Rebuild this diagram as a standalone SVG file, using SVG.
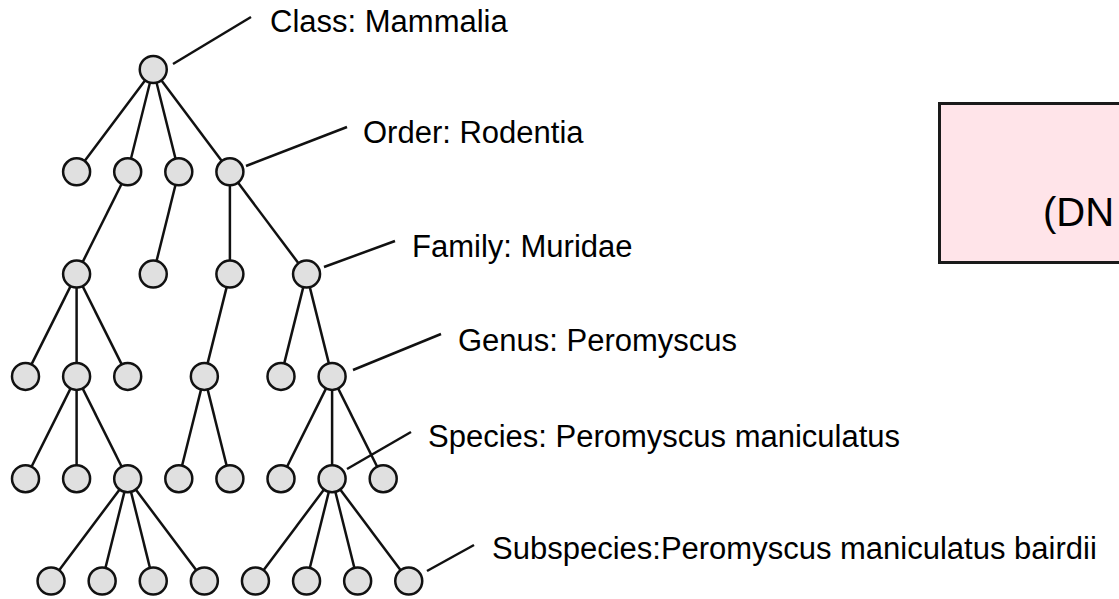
<svg xmlns="http://www.w3.org/2000/svg" width="1119" height="599" viewBox="0 0 1119 599">
<style>
.n{fill:#e0e0e0;stroke:#111;stroke-width:2.5}
.e{stroke:#111;stroke-width:2.5;fill:none}
.t{font-family:"Liberation Sans",Arial,sans-serif;font-size:31px;fill:#000}
</style>
<rect width="1119" height="599" fill="#fff"/>
<g id="box">
<rect x="939.5" y="103.5" width="200" height="159" fill="#ffe4e9" stroke="#1a1a1a" stroke-width="3"/>
<text x="1043" y="226" style="font-family:'Liberation Sans',Arial,sans-serif;font-size:40px;fill:#000">(DN</text>
</g>
<g id="connectors" class="e">
<line x1="153.25" y1="69.5" x2="76.6" y2="171.8"/>
<line x1="153.25" y1="69.5" x2="127.7" y2="171.8"/>
<line x1="153.25" y1="69.5" x2="178.8" y2="171.8"/>
<line x1="153.25" y1="69.5" x2="229.9" y2="171.8"/>
<line x1="127.7" y1="171.8" x2="76.6" y2="274.1"/>
<line x1="178.8" y1="171.8" x2="153.25" y2="274.1"/>
<line x1="229.9" y1="171.8" x2="229.9" y2="274.1"/>
<line x1="229.9" y1="171.8" x2="306.55" y2="274.1"/>
<line x1="76.6" y1="274.1" x2="25.5" y2="376.4"/>
<line x1="76.6" y1="274.1" x2="76.6" y2="376.4"/>
<line x1="76.6" y1="274.1" x2="127.7" y2="376.4"/>
<line x1="229.9" y1="274.1" x2="204.35" y2="376.4"/>
<line x1="306.55" y1="274.1" x2="281" y2="376.4"/>
<line x1="306.55" y1="274.1" x2="332.1" y2="376.4"/>
<line x1="76.6" y1="376.4" x2="25.5" y2="478.7"/>
<line x1="76.6" y1="376.4" x2="76.6" y2="478.7"/>
<line x1="76.6" y1="376.4" x2="127.7" y2="478.7"/>
<line x1="204.35" y1="376.4" x2="178.8" y2="478.7"/>
<line x1="204.35" y1="376.4" x2="229.9" y2="478.7"/>
<line x1="332.1" y1="376.4" x2="281" y2="478.7"/>
<line x1="332.1" y1="376.4" x2="332.1" y2="478.7"/>
<line x1="332.1" y1="376.4" x2="383.2" y2="478.7"/>
<line x1="127.7" y1="478.7" x2="51.05" y2="581"/>
<line x1="127.7" y1="478.7" x2="102.15" y2="581"/>
<line x1="127.7" y1="478.7" x2="153.25" y2="581"/>
<line x1="127.7" y1="478.7" x2="204.35" y2="581"/>
<line x1="332.1" y1="478.7" x2="255.45" y2="581"/>
<line x1="332.1" y1="478.7" x2="306.55" y2="581"/>
<line x1="332.1" y1="478.7" x2="357.65" y2="581"/>
<line x1="332.1" y1="478.7" x2="408.75" y2="581"/>
<line x1="173" y1="64" x2="251" y2="17"/>
<line x1="246" y1="166" x2="347" y2="127"/>
<line x1="324" y1="267" x2="395" y2="241"/>
<line x1="353" y1="370" x2="441" y2="334"/>
<line x1="347" y1="469" x2="411" y2="432"/>
<line x1="427" y1="571" x2="474" y2="545"/>
</g>
<g id="node-root"><circle class="n" cx="153.25" cy="69.5" r="13.5"/></g>
<g id="node-r1a"><circle class="n" cx="76.6" cy="171.8" r="13.5"/></g>
<g id="node-r1b"><circle class="n" cx="127.7" cy="171.8" r="13.5"/></g>
<g id="node-r1c"><circle class="n" cx="178.8" cy="171.8" r="13.5"/></g>
<g id="node-r1d"><circle class="n" cx="229.9" cy="171.8" r="13.5"/></g>
<g id="node-r2a"><circle class="n" cx="76.6" cy="274.1" r="13.5"/></g>
<g id="node-r2b"><circle class="n" cx="153.25" cy="274.1" r="13.5"/></g>
<g id="node-r2c"><circle class="n" cx="229.9" cy="274.1" r="13.5"/></g>
<g id="node-r2d"><circle class="n" cx="306.55" cy="274.1" r="13.5"/></g>
<g id="node-r3a"><circle class="n" cx="25.5" cy="376.4" r="13.5"/></g>
<g id="node-r3b"><circle class="n" cx="76.6" cy="376.4" r="13.5"/></g>
<g id="node-r3c"><circle class="n" cx="127.7" cy="376.4" r="13.5"/></g>
<g id="node-r3d"><circle class="n" cx="204.35" cy="376.4" r="13.5"/></g>
<g id="node-r3e"><circle class="n" cx="281" cy="376.4" r="13.5"/></g>
<g id="node-r3f"><circle class="n" cx="332.1" cy="376.4" r="13.5"/></g>
<g id="node-r4a"><circle class="n" cx="25.5" cy="478.7" r="13.5"/></g>
<g id="node-r4b"><circle class="n" cx="76.6" cy="478.7" r="13.5"/></g>
<g id="node-r4c"><circle class="n" cx="127.7" cy="478.7" r="13.5"/></g>
<g id="node-r4d"><circle class="n" cx="178.8" cy="478.7" r="13.5"/></g>
<g id="node-r4e"><circle class="n" cx="229.9" cy="478.7" r="13.5"/></g>
<g id="node-r4f"><circle class="n" cx="281" cy="478.7" r="13.5"/></g>
<g id="node-r4g"><circle class="n" cx="332.1" cy="478.7" r="13.5"/></g>
<g id="node-r4h"><circle class="n" cx="383.2" cy="478.7" r="13.5"/></g>
<g id="node-r5a"><circle class="n" cx="51.05" cy="581" r="13.5"/></g>
<g id="node-r5b"><circle class="n" cx="102.15" cy="581" r="13.5"/></g>
<g id="node-r5c"><circle class="n" cx="153.25" cy="581" r="13.5"/></g>
<g id="node-r5d"><circle class="n" cx="204.35" cy="581" r="13.5"/></g>
<g id="node-r5e"><circle class="n" cx="255.45" cy="581" r="13.5"/></g>
<g id="node-r5f"><circle class="n" cx="306.55" cy="581" r="13.5"/></g>
<g id="node-r5g"><circle class="n" cx="357.65" cy="581" r="13.5"/></g>
<g id="node-r5h"><circle class="n" cx="408.75" cy="581" r="13.5"/></g>
<g id="labels">
<text class="t" x="270" y="32">Class: Mammalia</text>
<text class="t" x="363" y="143">Order: Rodentia</text>
<text class="t" x="412" y="257">Family: Muridae</text>
<text class="t" x="458" y="351">Genus: Peromyscus</text>
<text class="t" x="428" y="447">Species: Peromyscus maniculatus</text>
<text class="t" x="492" y="559">Subspecies:Peromyscus maniculatus bairdii</text>
</g>
</svg>
